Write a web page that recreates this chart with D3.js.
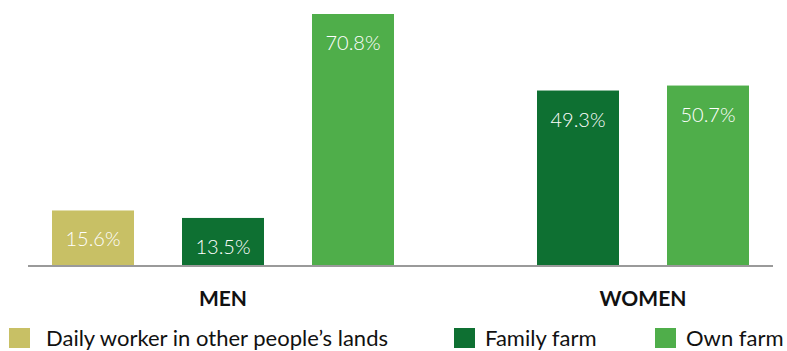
<!DOCTYPE html>
<html>
<head>
<meta charset="utf-8">
<script src="https://cdn.jsdelivr.net/npm/d3@7"></script>
<style>
  html, body { margin: 0; padding: 0; background: #fff; }
  svg { display: block; font-family: Lato, "Open Sans", sans-serif; }
</style>
</head>
<body>
<svg id="chart" width="787" height="351"></svg>
<script>
// Work type by sex (share of respondents, %)
const groups = ["MEN", "WOMEN"];
const seriesNames = ["Daily worker in other people\u2019s lands", "Family farm", "Own farm"];
const seriesColors = ["#c8c065", "#0e7032", "#4fae4a"];
const menValues = [15.6, 13.5, 70.8];
const womenValues = [null, 49.3, 50.7];

const valuesByGroup = { MEN: menValues, WOMEN: womenValues };

const svg = d3.select("#chart");
const baseline = 266;
const plotTop = 14;
const barWidth = 82;
const barStep = 130;

// Group centres along the axis
const x = d3.scalePoint().domain(groups).range([223, 643]);
const y = d3.scaleLinear().domain([0, d3.max(menValues.concat(womenValues))]).range([baseline, plotTop]);

// Flatten into bar records; each group only keeps the series it has
const bars = [];
groups.forEach(g => {
  const present = seriesNames
    .map((s, i) => ({ series: s, idx: i, value: valuesByGroup[g][i] }))
    .filter(d => d.value != null);
  const inner = d3.scaleBand()
    .domain(present.map(d => d.series))
    .range([-present.length * barStep / 2, present.length * barStep / 2])
    .paddingInner((barStep - barWidth) / barStep)
    .paddingOuter((barStep - barWidth) / barStep / 2);
  present.forEach(d => {
    bars.push({ group: g, series: d.series, idx: d.idx, value: d.value,
                x0: x(g) + inner(d.series), w: inner.bandwidth() });
  });
});

svg.append("g").selectAll("rect")
  .data(bars)
  .join("rect")
  .attr("x", d => d.x0)
  .attr("y", d => y(d.value))
  .attr("width", d => d.w)
  .attr("height", d => baseline - y(d.value))
  .attr("fill", d => seriesColors[d.idx]);

// Value labels inside each bar
svg.append("g").selectAll("text")
  .data(bars)
  .join("text")
  .attr("x", d => d.x0 + d.w / 2)
  .attr("y", d => y(d.value) + 36)
  .attr("text-anchor", "middle")
  .attr("fill", "#fff")
  .attr("font-size", 20)
  .attr("font-weight", 300)
  .text(d => d.value.toFixed(1) + "%");

// Baseline
svg.append("line")
  .attr("x1", 28).attr("x2", 773)
  .attr("y1", baseline).attr("y2", baseline)
  .attr("stroke", "#9a9a9a")
  .attr("stroke-width", 2);

// Group labels
svg.append("g").selectAll("text")
  .data(groups)
  .join("text")
  .attr("x", d => x(d))
  .attr("y", 306)
  .attr("text-anchor", "middle")
  .attr("font-weight", 700)
  .attr("font-size", 21)
  .attr("fill", "#111")
  .text(d => d);

// Legend: swatch and label positions for each entry
const legendSwatchX = [9, 454, 655];
const legendTextX = [46, 485, 686];
const legend = svg.append("g").selectAll("g")
  .data(seriesNames)
  .join("g");
legend.append("rect")
  .attr("x", (d, i) => legendSwatchX[i])
  .attr("y", 328)
  .attr("width", 21).attr("height", 20)
  .attr("fill", (d, i) => seriesColors[i]);
legend.append("text")
  .attr("x", (d, i) => legendTextX[i])
  .attr("y", 346)
  .attr("font-size", 22)
  .attr("fill", "#111")
  .text(d => d);
</script>
</body>
</html>
